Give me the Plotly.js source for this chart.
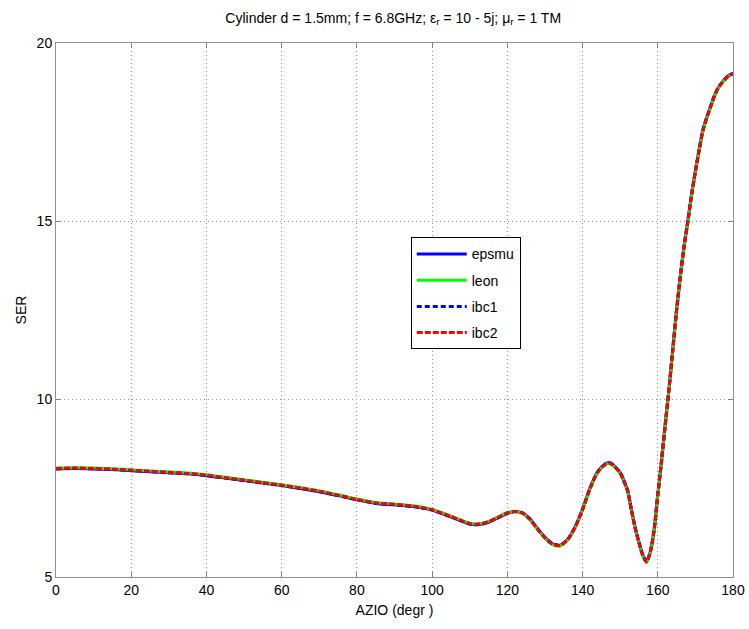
<!DOCTYPE html>
<html>
<head>
<meta charset="utf-8">
<script src="https://cdn.plot.ly/plotly-3.0.1.min.js"></script>
<style>html,body{margin:0;padding:0;background:#fff;}#chart{width:749px;height:629px;}</style>
</head>
<body>
<div id="chart"></div>
<script>
const azio = [0,5,10,15,20,25,30,35,40,45,50,55,60,65,70,75,80,85,90,95,100,105,110,112,115,118,120,122,124,126,128,130,132,134,136,138,140,142,144,146,147,148,150,151,152,153,154,155,156,157,158,159,160,161,162,163,164,165,166,167,168,169,170,171,172,173,174,175,176,177,178,179,180];
const serEpsmu = [8.04,8.05,8.04,8.02,7.99,7.96,7.93,7.9,7.85,7.78,7.71,7.64,7.57,7.49,7.4,7.29,7.17,7.07,7.03,6.98,6.88,6.69,6.49,6.47,6.54,6.69,6.79,6.84,6.8,6.63,6.36,6.11,5.93,5.89,6.05,6.4,6.9,7.5,7.95,8.17,8.21,8.16,7.93,7.7,7.42,6.88,6.38,5.97,5.62,5.43,5.7,6.3,7.3,8.27,9.3,10.3,11.4,12.5,13.45,14.3,15.0,15.75,16.4,17.0,17.55,17.9,18.2,18.5,18.73,18.88,19.0,19.1,19.14];
const serLeon = [8.06,8.07,8.06,8.04,8.01,7.98,7.95,7.92,7.87,7.8,7.73,7.66,7.59,7.51,7.42,7.31,7.19,7.09,7.05,7.0,6.9,6.71,6.51,6.49,6.56,6.71,6.81,6.83,6.79,6.61,6.34,6.09,5.91,5.87,6.03,6.38,6.88,7.48,7.93,8.15,8.19,8.14,7.91,7.68,7.4,6.86,6.36,5.95,5.6,5.41,5.68,6.28,7.28,8.25,9.28,10.28,11.38,12.48,13.43,14.28,14.98,15.73,16.38,16.98,17.53,17.88,18.18,18.48,18.71,18.86,18.98,19.08,19.12];
const serIbc1 = [8.04,8.05,8.04,8.02,7.99,7.96,7.93,7.9,7.85,7.78,7.71,7.64,7.57,7.49,7.4,7.29,7.17,7.07,7.03,6.98,6.88,6.69,6.49,6.47,6.54,6.69,6.79,6.84,6.8,6.63,6.36,6.11,5.93,5.89,6.05,6.4,6.9,7.5,7.95,8.17,8.21,8.16,7.93,7.7,7.42,6.88,6.38,5.97,5.62,5.43,5.7,6.3,7.3,8.27,9.3,10.3,11.4,12.5,13.45,14.3,15.0,15.75,16.4,17.0,17.55,17.9,18.2,18.5,18.73,18.88,19.0,19.1,19.14];
const serIbc2 = [8.05,8.06,8.05,8.03,8.0,7.97,7.94,7.91,7.86,7.79,7.72,7.65,7.58,7.5,7.41,7.3,7.18,7.08,7.04,6.99,6.89,6.7,6.5,6.48,6.55,6.7,6.8,6.84,6.8,6.62,6.35,6.1,5.92,5.88,6.04,6.39,6.89,7.49,7.94,8.16,8.2,8.15,7.92,7.69,7.41,6.87,6.37,5.96,5.61,5.42,5.69,6.29,7.29,8.26,9.29,10.29,11.39,12.49,13.44,14.29,14.99,15.74,16.39,16.99,17.54,17.89,18.19,18.49,18.72,18.87,18.99,19.09,19.13];
const names = ['epsmu','leon','ibc1','ibc2'];
const xTicks = [0,20,40,60,80,100,120,140,160,180];
const yTicks = [5,10,15,20];

const F = '"Liberation Sans", Arial, Helvetica, sans-serif';
const series = [serEpsmu, serLeon, serIbc1, serIbc2];
const colors = ['#0000ff','#00ff00','#0000ff','#ff0000'];
const dashes = ['solid','solid','5px,3px','6px,2px'];
const widths = [3.2, 3, 3, 3];
const traces = series.map((s,i)=>({
  x: azio, y: s, type:'scatter', mode:'lines', name:names[i],
  legendgroup:'g'+i,
  line:{color:colors[i], width:widths[i], dash:dashes[i], shape:'spline', smoothing:0.6}
}));

const layout = {
  width:749, height:629,
  margin:{l:56, r:16, t:43, b:52},
  paper_bgcolor:'#fff', plot_bgcolor:'#fff',
  font:{family:F, size:14, color:'#000'},
  title:{text:'Cylinder d = 1.5mm; f = 6.8GHz; ε<sub>r</sub> = 10 - 5j; μ<sub>r</sub> = 1 TM',
         font:{family:F, size:14, color:'#000'}, x:0.525, xanchor:'center', y:0.972, yanchor:'middle'},
  xaxis:{range:[0,180], tickvals:xTicks, ticktext:xTicks.map(String), ticks:'inside', ticklen:5,
         tickcolor:'#808080', showline:true, linecolor:'#909090', linewidth:1, mirror:'ticks',
         showgrid:true, gridcolor:'#999999', griddash:'1px,3px', gridwidth:1, zeroline:false,
         tickfont:{family:F, size:14}, title:{text:'AZIO (degr )', font:{family:F, size:14}, standoff:8}},
  yaxis:{range:[5,20], tickvals:yTicks, ticktext:yTicks.map(String), ticks:'inside', ticklen:5,
         tickcolor:'#808080', showline:true, linecolor:'#909090', linewidth:1, mirror:'ticks',
         showgrid:true, gridcolor:'#999999', griddash:'1px,3px', gridwidth:1, zeroline:false,
         tickfont:{family:F, size:14}, title:{text:'SER', font:{family:F, size:14}, standoff:6}},
  showlegend:true,
  legend:{x:0.524, y:0.636, xanchor:'left', yanchor:'top', bgcolor:'#fff', bordercolor:'#000', borderwidth:1,
          font:{family:F, size:14, color:'#000'}, tracegroupgap:5, traceorder:'grouped', itemwidth:50}
};
Plotly.newPlot('chart', traces, layout, {displayModeBar:false, staticPlot:true});
</script>
</body>
</html>
